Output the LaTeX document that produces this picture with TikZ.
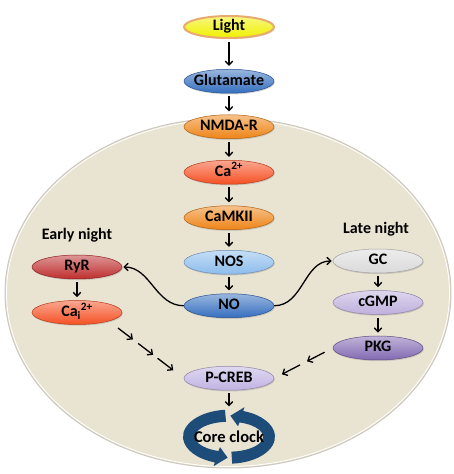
\documentclass[tikz,border=0pt]{standalone}
\usepackage{fontspec}
\setmainfont{Carlito}
\usepackage{tikz}
\usetikzlibrary{shapes,arrows.meta,positioning,calc,shadows,backgrounds}

\definecolor{cellbeige}{RGB}{233,227,210}
\definecolor{cellrim}{RGB}{205,200,190}
\definecolor{lightyellow}{RGB}{240,240,0}
\definecolor{lightglow}{RGB}{232,170,110}
\definecolor{glutblue}{RGB}{52,110,190}
\definecolor{nmdaorange}{RGB}{238,132,22}
\definecolor{caorange}{RGB}{245,80,35}
\definecolor{nosblue}{RGB}{140,188,236}
\definecolor{ryrred}{RGB}{190,45,45}
\definecolor{gcgray}{RGB}{218,218,218}
\definecolor{cgmppurple}{RGB}{190,175,220}
\definecolor{pkgpurple}{RGB}{130,105,178}
\definecolor{crebpurple}{RGB}{192,178,226}
\definecolor{clockblue}{RGB}{30,76,120}

\begin{document}
\begin{tikzpicture}[x=1pt, y=1pt, node distance=21pt,
    mol/.style={ellipse, minimum width=90pt, minimum height=24pt, inner xsep=-12pt, inner ysep=0pt,
        text height=11pt, text depth=3pt, font=\fontsize{16}{18}\selectfont\bfseries,
        draw=#1!75!black, line width=0.5pt, top color=#1!50!white, bottom color=#1,
        drop shadow={opacity=0.3, shadow xshift=0.8pt, shadow yshift=-1.2pt}},
    phase/.style={inner sep=0pt, font=\fontsize{16}{18}\selectfont\bfseries},
    arr/.style={-{Straight Barb[length=4pt,width=7.5pt]}, line width=1.3pt},
    step arr/.style={arr, shorten <=3pt, shorten >=3pt}]

    \useasboundingbox (0,0) rectangle (454,474);

    % cell
    \begin{scope}[on background layer]
        \draw[fill=cellbeige, draw=cellrim, line width=1pt] (228,181) ellipse [x radius=223pt, y radius=175pt];
        \draw[white, line width=0.8pt] (228,181) ellipse [x radius=221.5pt, y radius=173.5pt];
    \end{scope}

    % main pathway
    \node [mol=lightyellow, draw=lightglow, line width=2pt, minimum height=22pt] (light) at (229,447) {Light};
    \node [mol=glutblue, below=30pt of light] (glut) {Glutamate};
    \node [mol=nmdaorange, below=of glut] (nmda) {NMDA-R};
    \node [mol=caorange, below=of nmda] (ca) {Ca\textsuperscript{2+}};
    \node [mol=nmdaorange, below=of ca] (camk) {CaMKII};
    \node [mol=nosblue, below=20pt of camk] (nos) {NOS};
    \node [mol=glutblue, below=19pt of nos] (no) {NO};
    \node [mol=crebpurple, below=48pt of no] (pcreb) {P-CREB};
    \node [below=19pt of pcreb, minimum width=92pt, minimum height=54pt, inner sep=0pt,
        font=\fontsize{16.5}{19}\selectfont\bfseries] (clock) {Core clock};

    % early night
    \node [mol=ryrred] (ryr) at (77,207) {RyR};
    \node [mol=caorange, below=of ryr] (cai) {Ca\textsubscript{i}\textsuperscript{2+}};
    \node [phase, above=12pt of ryr] (early) {Early night};

    % late night
    \node [mol=gcgray] (gc) at (378,213) {GC};
    \node [mol=cgmppurple, below=17pt of gc] (cgmp) {cGMP};
    \node [mol=pkgpurple, below=of cgmp] (pkg) {PKG};
    \node [phase, above=12pt of gc, xshift=-2pt] (late) {Late night};

    \draw[step arr] (light) -- (glut);
    \draw[step arr] (glut) -- (nmda);
    \draw[step arr] (nmda) -- (ca);
    \draw[step arr] (ca) -- (camk);
    \draw[step arr] (camk) -- (nos);
    \draw[step arr] (nos) -- (no);
    \draw[step arr] (pcreb) -- (clock);
    \draw[step arr] (ryr) -- (cai);
    \draw[step arr] (gc) -- (cgmp);
    \draw[step arr] (cgmp) -- (pkg);

    \draw[arr, shorten >=1pt] (no.west) to[out=180, in=0] (ryr.east);
    \draw[arr, shorten >=1pt] (no.east) to[out=0, in=180] (gc.west);

    % broken arrows to P-CREB
    \foreach \a/\b in {0.12/0.32, 0.39/0.59, 0.65/0.86}
        \draw[arr] ($(cai.south east)!\a!(pcreb.west)$) -- ($(cai.south east)!\b!(pcreb.west)$);
    \foreach \a/\b in {0.14/0.44, 0.56/0.87}
        \draw[arr] ($(pkg.west)!\a!(pcreb.east)$) -- ($(pkg.west)!\b!(pcreb.east)$);

    % clock ring
    \begin{scope}[on background layer, shift={(clock.center)}]
        \fill[clockblue] (95:46pt and 27pt) arc[start angle=95, end angle=252, x radius=46pt, y radius=27pt]
            -- (252:50pt and 31pt) -- (268:39.5pt and 21pt) -- (252:29pt and 11pt)
            -- (252:34pt and 15pt) arc[start angle=252, end angle=95, x radius=34pt, y radius=15pt] -- cycle;
        \fill[clockblue] (-86:46pt and 27pt) arc[start angle=-86, end angle=72, x radius=46pt, y radius=27pt]
            -- (72:50pt and 31pt) -- (88:39.5pt and 21pt) -- (72:29pt and 11pt)
            -- (72:34pt and 15pt) arc[start angle=72, end angle=-86, x radius=34pt, y radius=15pt] -- cycle;
    \end{scope}

\end{tikzpicture}
\end{document}
